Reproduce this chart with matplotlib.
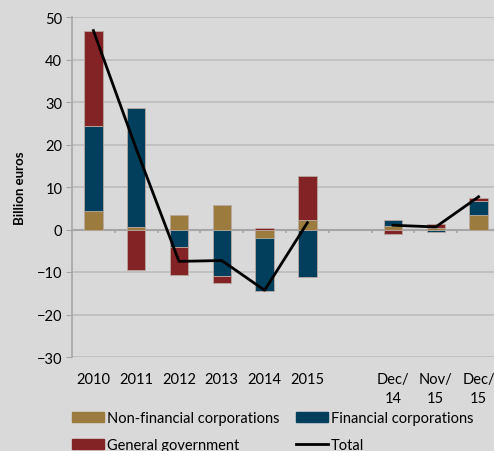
import numpy as np
import matplotlib
matplotlib.use("Agg")
import matplotlib.pyplot as plt
from matplotlib.patches import Patch
from matplotlib.lines import Line2D
import matplotlib.transforms as mtransforms

plt.rcParams["font.family"] = ["Lato", "DejaVu Sans"]

# slots: six years, one empty gap, three months
categories = ["2010", "2011", "2012", "2013", "2014", "2015", "", "Dec/\n14", "Nov/\n15", "Dec/\n15"]
non_financial = [4.3, 0.6, 3.4, 5.7, -2.1, 2.2, 0.0, 0.9, 0.3, 3.4]
financial = [20.0, 27.9, -4.0, -11.0, -12.4, -11.1, 0.0, 1.3, -0.6, 3.2]
general_gov = [22.3, -9.5, -6.6, -1.7, 0.3, 10.4, 0.0, -1.1, 1.1, 0.9]
total = [46.8, 19.0, -7.5, -7.3, -14.3, 1.6, np.nan, 1.0, 0.6, 7.7]

BG = "#d9d9d9"
GRID = "#bdbdbd"
AXIS = "#a6a6a6"
colors = ["#9b7c3e", "#023f5c", "#842326"]
names = ["Non-financial corporations", "Financial corporations", "General government"]

fig = plt.figure(figsize=(4.94, 4.52), dpi=100, facecolor=BG)
ax = fig.add_axes([72 / 494, 1 - 358 / 452, 428 / 494, 340 / 452])
ax.set_facecolor(BG)

x = np.arange(len(categories))
has_bar = np.array([c != "" for c in categories])
pos_base = np.zeros(len(x))
neg_base = np.zeros(len(x))
for vals, col in zip([non_financial, financial, general_gov], colors):
    v = np.array(vals)
    base = np.where(v >= 0, pos_base, neg_base)
    ax.bar(x[has_bar], v[has_bar], bottom=base[has_bar], width=0.43, color=col,
           edgecolor="#b8a8a0", linewidth=0.6, zorder=3)
    pos_base += np.where(v >= 0, v, 0)
    neg_base += np.where(v < 0, v, 0)

ax.plot(x, total, color="black", linewidth=2, zorder=4)

ax.set_xlim(-0.5, len(x) - 0.5)
ax.set_ylim(-30, 50)
ax.set_yticks(np.arange(-30, 51, 10))
ax.grid(axis="y", color=GRID, linewidth=1.2, zorder=0)
ax.set_axisbelow(True)

for s in ["top", "right", "bottom"]:
    ax.spines[s].set_visible(False)
ax.spines["left"].set_color(AXIS)
ax.spines["left"].set_linewidth(1.2)
ax.tick_params(axis="y", length=4, color=AXIS, labelsize=10.5, labelcolor="#000000", pad=3)
ax.set_xticks([])

# zero line with category separators, like the source
ax.axhline(0, color=AXIS, linewidth=1.5, zorder=2)
ax.vlines(np.arange(len(x) + 1) - 0.5, -0.9, 0, color=AXIS, linewidth=1.2, zorder=2,
          clip_on=False)

lab_tr = mtransforms.blended_transform_factory(ax.transData, ax.transAxes)
for xi, lab in zip(x, categories):
    ax.text(xi, -0.045, lab, transform=lab_tr, ha="center", va="top",
            fontsize=10.5, linespacing=1.4)

ax.set_ylabel("Billion euros", fontsize=9.5, fontweight="bold", labelpad=8)

handles = [Patch(color=colors[0]), Patch(color=colors[2]),
           Patch(color=colors[1]), Line2D([], [], color="black", linewidth=2)]
labels = [names[0], names[2], names[1], "Total"]
fig.legend(handles, labels, loc="upper left", bbox_to_anchor=(72 / 494, 1 - 412 / 452),
           ncol=2, frameon=False, fontsize=10.5, handlelength=2.2, handletextpad=0.2,
           columnspacing=1.1, labelspacing=0.9, borderaxespad=0, borderpad=0)

fig.savefig("out.png", dpi=100, facecolor=BG)
